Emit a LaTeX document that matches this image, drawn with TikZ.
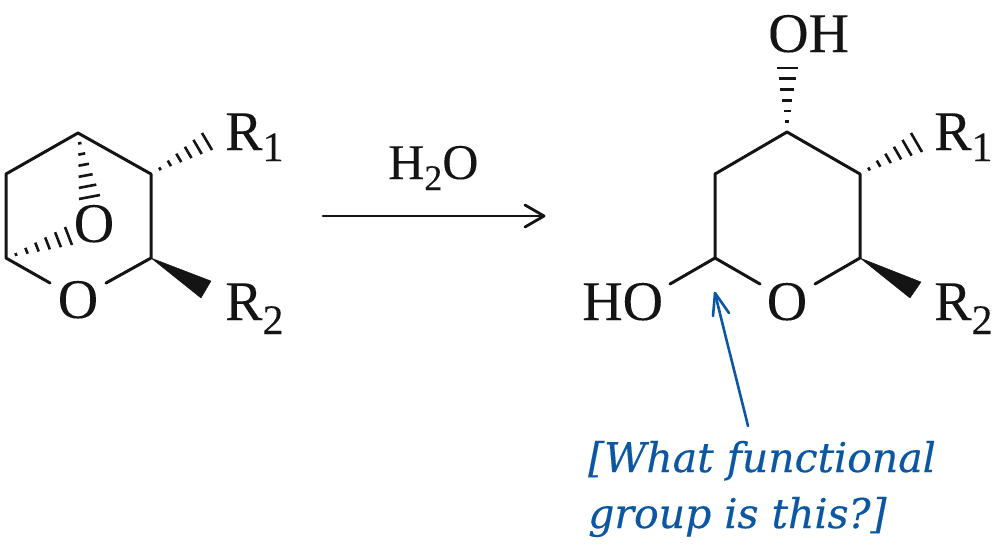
\documentclass[tikz,border=0pt]{standalone}
\usepackage{fontspec}
\setmainfont[FakeBold=0.08]{Liberation Serif}
\newfontfamily\notefont[FakeBold=0.35]{DejaVu Serif}
\usetikzlibrary{calc}
\definecolor{noteblue}{HTML}{0B57A4}
\definecolor{inkblack}{HTML}{141414}
\newcommand{\bigchem}{\fontsize{56}{56}\selectfont}
\newcommand{\subchem}[1]{{\fontsize{42}{42}\selectfont #1}}
\newcommand{\hashbond}[3]{%
  \foreach \t in {0.16,0.328,0.496,0.664,0.832,1}{%
    \draw[hash] ($(#1)!\t!(#2)$) -- ($(#1)!\t!(#3)$);}}
\tikzset{
  x=1pt,y=-1pt,
  bond/.style={draw=inkblack,line width=3pt,line cap=round,line join=round},
  hash/.style={draw=inkblack,line width=2.6pt},
  wedge/.style={fill=inkblack,draw=inkblack,line width=.4pt,line join=round},
  atom/.style={text=inkblack,inner sep=0pt,anchor=base,font=\bigchem},
  atomw/.style={atom,anchor=base west},
  rxn/.style={draw=inkblack,line width=2.8pt,line cap=round,line join=round},
  note/.style={text=noteblue,inner sep=0pt,anchor=base west,font=\notefont\itshape\fontsize{41}{41}\selectfont},
  callout/.style={draw=noteblue,line width=2.6pt,line cap=round,line join=round},
}
\begin{document}
\begin{tikzpicture}
\useasboundingbox (0,0) rectangle (1000,544);
% left ring atoms
\coordinate (La) at (78,133);
\coordinate (Lb) at (151,174);
\coordinate (Lc) at (151,258);
\coordinate (Ld) at (6,258);
\coordinate (Le) at (6,174);
\coordinate (LoL) at (50,283);
\coordinate (LoR) at (106,283);
\coordinate (Lr1p) at (202,133);
\coordinate (Lr1q) at (212,150);
\coordinate (Lw1) at (211,281);
\coordinate (Lw2) at (201,298);
\coordinate (Lbp) at (79,199);
\coordinate (Lbq) at (100,195);
\coordinate (Lcp) at (65,227);
\coordinate (Lcq) at (72,245);
\node[atom] (LO) at (78,318) {O};
\node[atom] (LB) at (94,242) {O};
\node[atomw] (LR1) at (225,150) {R\subchem{\raisebox{-11pt}{1}}};
\node[atomw] (LR2) at (225,320) {R\subchem{\raisebox{-14pt}{2}}};
\draw[bond] (LoL) -- (Ld) -- (Le) -- (La) -- (Lb) -- (Lc) -- (LoR);
\fill[wedge] (Lc) -- (Lw1) -- (Lw2) -- cycle;
\hashbond{La}{Lbp}{Lbq}
\hashbond{Ld}{Lcp}{Lcq}
\hashbond{Lb}{Lr1p}{Lr1q}
% reaction arrow
\coordinate (Aa) at (323,216);
\coordinate (Ab) at (544,216);
\draw[rxn] (Aa) -- (Ab);
\draw[rxn] (525,205) -- (Ab) -- (525,227);
\node[atomw,font=\fontsize{50}{50}\selectfont] (Wat) at (388,179) {H\subchem{\raisebox{-11pt}{\fontsize{36}{36}\selectfont 2}}O};
% right ring atoms
\coordinate (Ra) at (787,132);
\coordinate (Rb) at (860,174);
\coordinate (Rc) at (860,258);
\coordinate (Rd) at (715,258);
\coordinate (Re) at (715,174);
\coordinate (RoL) at (760,284);
\coordinate (RoR) at (815,284);
\coordinate (RhoE) at (670,284);
\coordinate (Rr1p) at (911,133);
\coordinate (Rr1q) at (922,152);
\coordinate (Rw1) at (921,282);
\coordinate (Rw2) at (910,298);
\coordinate (Rop) at (777,68);
\coordinate (Roq) at (798,68);
\node[atom] (RO) at (787,320) {O};
\node[atomw] (RHO) at (582,320) {HO};
\node[atomw] (ROH) at (768,52) {OH};
\node[atomw] (RR1) at (934,150) {R\subchem{\raisebox{-11pt}{1}}};
\node[atomw] (RR2) at (934,320) {R\subchem{\raisebox{-14pt}{2}}};
\draw[bond] (RoL) -- (Rd) -- (Re) -- (Ra) -- (Rb) -- (Rc) -- (RoR);
\draw[bond] (Rd) -- (RhoE);
\fill[wedge] (Rc) -- (Rw1) -- (Rw2) -- cycle;
\hashbond{Ra}{Rop}{Roq}
\hashbond{Rb}{Rr1p}{Rr1q}
% question
\node[note] (Q1) at (588,472) {[What functional};
\node[note] (Q2) at (588,528) {group is this?]};
\coordinate (Cs) at (748,426);
\coordinate (Ct) at (715,293);
\draw[callout] (Cs) .. controls (738,385) and (725,335) .. (Ct);
\draw[callout] (713,316) -- (Ct) -- (729,313);
\end{tikzpicture}
\end{document}
